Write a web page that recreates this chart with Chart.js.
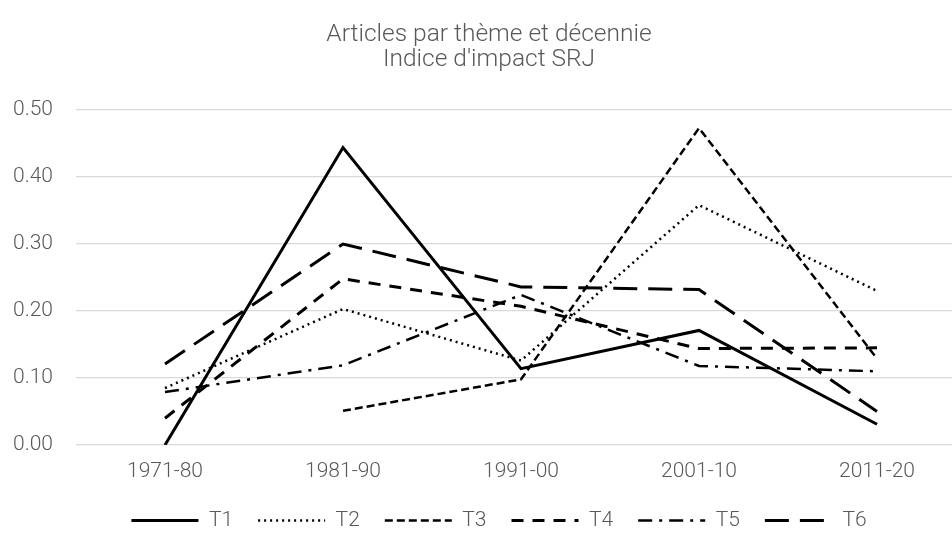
<!DOCTYPE html>
<html>
<head>
<meta charset="utf-8">
<script src="https://cdn.jsdelivr.net/npm/chart.js@4/dist/chart.umd.min.js"></script>
<style>
  html, body { margin: 0; padding: 0; background: #fff; overflow: hidden; }
  #wrap { width: 970px; height: 537px; }
</style>
</head>
<body>
<div id="wrap"><canvas id="chart"></canvas></div>
<script>
// Décennies et indices
const decades = ['1971-80', '1981-90', '1991-00', '2001-10', '2011-20'];
const yTicks = [0, 0.1, 0.2, 0.3, 0.4, 0.5];

const t1 = [0.000, 0.444, 0.114, 0.171, 0.031];
const t2 = [0.085, 0.203, 0.126, 0.358, 0.230];
const t3 = [null, 0.051, 0.098, 0.473, 0.129];
const t4 = [0.040, 0.248, 0.207, 0.144, 0.145];
const t5 = [0.079, 0.119, 0.224, 0.118, 0.110];
const t6 = [0.121, 0.300, 0.236, 0.232, 0.050];

const grey = '#595959';
const font = "Roboto, 'Liberation Sans', sans-serif";

function serie(label, data, dash, width) {
    return {
        label: label,
        data: data,
        borderColor: '#000',
        backgroundColor: '#000',
        borderWidth: width,
        borderDash: dash,
        pointRadius: 0,
        pointStyle: 'line',
        fill: false,
        tension: 0,
        spanGaps: false
    };
}

// hauteur fixe de la légende + léger décalage horizontal
const legendTweak = {
    id: 'legendTweak',
    beforeInit(chart) {
        const fit = chart.legend.fit;
        chart.legend.fit = function () {
            fit.bind(chart.legend)();
            this.height = 52;
        };
    },
    afterLayout(chart) {
        chart.legend.left += 10;
        chart.legend.right += 10;
    }
};

new Chart(document.getElementById('chart').getContext('2d'), {
    type: 'line',
    data: {
        labels: decades,
        datasets: [
            serie('T1', t1, [], 3),
            serie('T2', t2, [2, 4], 2.5),
            serie('T3', t3, [8, 4], 2.5),
            serie('T4', t4, [12, 9], 3),
            serie('T5', t5, [14, 7, 3, 7], 2.5),
            serie('T6', t6, [24, 11], 3)
        ]
    },
    plugins: [legendTweak],
    options: {
        responsive: true,
        maintainAspectRatio: false,
        animation: false,
        layout: { padding: { left: 12, right: 4, top: 0, bottom: 0 } },
        scales: {
            x: {
                offset: true,
                afterFit: (axis) => { axis.height = 40; },
                grid: { display: false },
                border: { display: false },
                ticks: { color: grey, font: { family: font, size: 21, weight: 300 }, padding: 6 }
            },
            y: {
                min: 0,
                max: 0.5,
                afterBuildTicks: (axis) => { axis.ticks = yTicks.map(v => ({ value: v })); },
                afterFit: (axis) => { axis.width = 64; },
                grid: { color: '#d9d9d9', lineWidth: 1.3, drawTicks: false },
                border: { display: false },
                ticks: {
                    color: grey,
                    font: { family: font, size: 21, weight: 300 },
                    padding: 23,
                    callback: (v) => Number(v).toFixed(2)
                }
            }
        },
        plugins: {
            title: {
                display: true,
                text: ['Articles par thème et décennie', "Indice d'impact SRJ"],
                color: grey,
                font: { family: font, size: 24.5, weight: 300, lineHeight: 1.0 },
                padding: { top: 23, bottom: 38 }
            },
            legend: {
                position: 'bottom',
                labels: {
                    color: grey,
                    font: { family: font, size: 21, weight: 300 },
                    usePointStyle: true,
                    pointStyleWidth: 67,
                    padding: 25,
                    generateLabels: (chart) => {
                        const items = Chart.defaults.plugins.legend.labels.generateLabels(chart);
                        return items.map((it, i) => {
                            const ds = chart.data.datasets[i];
                            it.lineDash = ds.borderDash;
                            it.lineWidth = ds.borderWidth;
                            it.strokeStyle = '#000';
                            it.fillStyle = '#000';
                            return it;
                        });
                    }
                }
            },
            tooltip: { enabled: false }
        }
    }
});
</script>
</body>
</html>
